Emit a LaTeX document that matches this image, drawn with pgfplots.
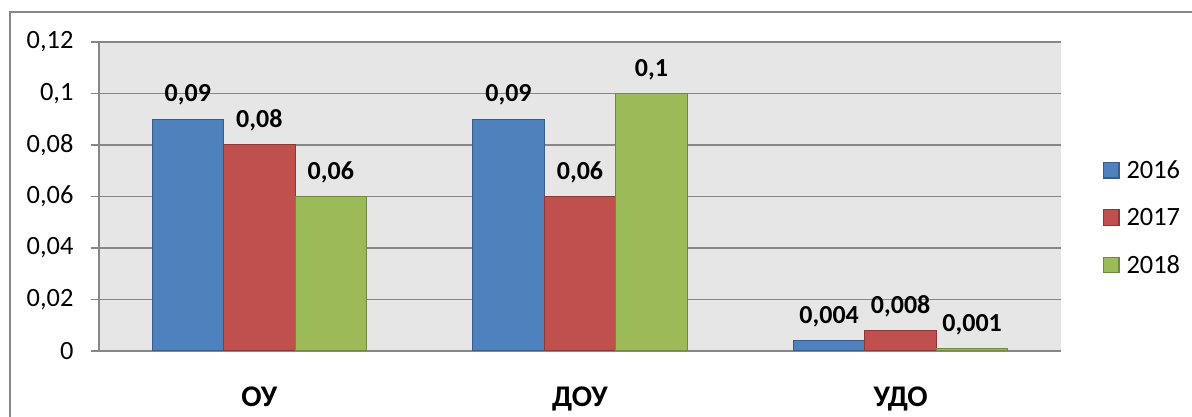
\documentclass[border=0pt]{standalone}
\usepackage{pgfplots}
\pgfplotsset{compat=1.18}
\usepackage{pgfplotstable}
\usepackage{fontspec}
\setmainfont{Carlito}
\definecolor{cblue}{HTML}{4F81BD}
\definecolor{cbluee}{HTML}{385D8A}
\definecolor{cred}{HTML}{C0504D}
\definecolor{credd}{HTML}{8C3836}
\definecolor{cgreen}{HTML}{9BBB59}
\definecolor{cgreenn}{HTML}{71893F}
\definecolor{gridc}{HTML}{878787}
\definecolor{bgc}{HTML}{E6E6E6}
\pgfplotstableread{
x y lab
0 0.09 {0,09}
1 0.09 {0,09}
2 0.004 {0,004}
}\dA
\pgfplotstableread{
x y lab
0 0.08 {0,08}
1 0.06 {0,06}
2 0.008 {0,008}
}\dB
\pgfplotstableread{
x y lab
0 0.06 {0,06}
1 0.1 {0,1}
2 0.001 {0,001}
}\dC
\begin{document}
\begin{tikzpicture}
\path[use as bounding box] (0pt,0pt) rectangle (894pt,312.75pt);
\draw[gridc, line width=1.2pt] (7.5pt,-5pt) -- (7.5pt,303.75pt) -- (900pt,303.75pt);
\begin{axis}[
  at={(74.25pt,49.5pt)}, anchor=south west,
  scale only axis, width=721.5pt, height=231.75pt,
  xmin=-0.5, xmax=2.5, ymin=0, ymax=0.12,
  axis background/.style={fill=bgc},
  axis x line*=bottom, axis y line*=left,
  axis line style={gridc, line width=1.2pt},
  ybar=0pt, bar width=0.223,
  ytick={0,0.02,0.04,0.06,0.08,0.1,0.12},
  yticklabels={0,{0,02},{0,04},{0,06},{0,08},{0,1},{0,12}},
  ymajorgrids, grid style={gridc, line width=1.2pt},
  ytick style={gridc, line width=1.2pt},
  major tick length=6pt, tick align=outside,
  yticklabel style={font=\fontsize{19.8}{22}\selectfont, anchor=east, inner sep=0pt, xshift=-13pt},
  xtick={0,1,2},
  xticklabels={ОУ,ДОУ,УДО},
  xtick style={draw=none},
  xticklabel style={font=\fontsize{22.5}{25}\selectfont\bfseries, anchor=base, inner sep=0pt, yshift=-35.25pt},
  extra x ticks={-0.5,0.5,1.5,2.5},
  extra x tick labels={},
  extra x tick style={grid=none, tick style={gridc, line width=1.2pt, draw=gridc}, major tick length=6pt},
  nodes near coords,
  point meta=explicit symbolic,
  every node near coord/.append style={font=\fontsize{19.5}{22}\selectfont\bfseries, anchor=base, inner sep=0pt, yshift=13pt, text=black},
  legend style={at={(1.0437,0.6117)}, anchor=north west, draw=none, fill=none,
    inner sep=0pt, outer sep=0pt, row sep=23pt, column sep=5.25pt,
    font=\fontsize{19.8}{22}\selectfont,
    nodes={inner sep=0pt, text height=12pt, text depth=0pt}},
  legend cell align=left,
  legend image code/.code={\draw[#1, line width=0.9pt] (0pt,-5.5pt) rectangle (11.5pt,6pt);},
]
\addplot[fill=cblue, draw=cbluee, line width=0.75pt] table[x=x, y=y, meta=lab] {\dA};
\addplot[fill=cred, draw=credd, line width=0.75pt] table[x=x, y=y, meta=lab] {\dB};
\addplot[fill=cgreen, draw=cgreenn, line width=0.75pt] table[x=x, y=y, meta=lab] {\dC};
\legend{2016,2017,2018}
\end{axis}
\end{tikzpicture}
\end{document}
